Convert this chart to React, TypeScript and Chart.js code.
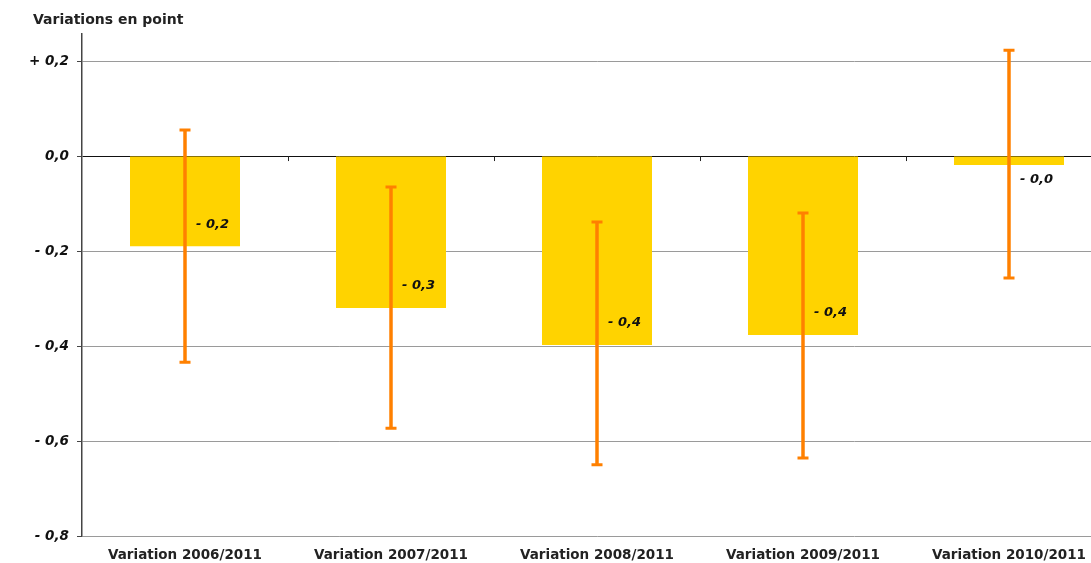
import React, { useEffect, useRef } from "react";
import { Chart, registerables } from "chart.js";

Chart.register(...registerables);

const categories = [
  "Variation 2006/2011",
  "Variation 2007/2011",
  "Variation 2008/2011",
  "Variation 2009/2011",
  "Variation 2010/2011",
];
const values = [-0.19, -0.32, -0.398, -0.377, -0.019];
const errorHigh = [0.055, -0.065, -0.139, -0.12, 0.223];
const errorLow = [-0.434, -0.573, -0.65, -0.636, -0.257];
const yTickValues = [-0.8, -0.6, -0.4, -0.2, 0, 0.2];
const yMin = -0.8;
const yMax = 0.257;
const yTitle = "Variations en point";

const BAR_COLOR = "#FFD300";
const ERR_COLOR = "#FF8000";
const FONT = "'DejaVu Sans', 'Liberation Sans', Arial, sans-serif";

const fmt = (v: number) => {
  const r = Math.round(v * 10) / 10;
  const s = Math.abs(r).toFixed(1).replace(".", ",");
  if (Math.abs(r) < 1e-9) return v < 0 ? "- " + s : s;
  return (r > 0 ? "+ " : "- ") + s;
};

const overlayPlugin = {
  id: "overlay",
  afterDatasetsDraw(chart: any) {
    const ctx = chart.ctx;
    const x = chart.scales.x;
    const y = chart.scales.y;
    const area = chart.chartArea;
    const y0 = y.getPixelForValue(0);
    ctx.save();
    // category tick marks on zero line
    ctx.strokeStyle = "#222";
    ctx.lineWidth = 1;
    for (let i = 1; i < categories.length; i++) {
      const px = (x.getPixelForValue(i - 1) + x.getPixelForValue(i)) / 2;
      ctx.beginPath();
      ctx.moveTo(Math.round(px) + 0.5, y0);
      ctx.lineTo(Math.round(px) + 0.5, y0 + 5);
      ctx.stroke();
    }
    // error bars
    ctx.strokeStyle = ERR_COLOR;
    for (let i = 0; i < categories.length; i++) {
      const cx = x.getPixelForValue(i);
      const yh = y.getPixelForValue(errorHigh[i]);
      const yl = y.getPixelForValue(errorLow[i]);
      ctx.lineWidth = 3.5;
      ctx.beginPath();
      ctx.moveTo(cx, yh);
      ctx.lineTo(cx, yl);
      ctx.stroke();
      ctx.lineWidth = 3;
      ctx.beginPath();
      ctx.moveTo(cx - 5.5, yh);
      ctx.lineTo(cx + 5.5, yh);
      ctx.moveTo(cx - 5.5, yl);
      ctx.lineTo(cx + 5.5, yl);
      ctx.stroke();
    }
    // value labels
    ctx.fillStyle = "#111";
    ctx.font = `italic bold 13px ${FONT}`;
    ctx.textAlign = "left";
    ctx.textBaseline = "middle";
    for (let i = 0; i < categories.length; i++) {
      const cx = x.getPixelForValue(i);
      const yv = y.getPixelForValue(values[i]);
      const h = Math.abs(yv - y0);
      const ly = h > 40 ? yv - 22 : yv + 15;
      ctx.fillText(fmt(values[i]), cx + 11, ly);
    }
    // title
    ctx.fillStyle = "#222";
    ctx.font = `bold 14px ${FONT}`;
    ctx.textAlign = "left";
    ctx.textBaseline = "middle";
    ctx.fillText(yTitle, area.left - 49, 20);
    ctx.restore();
  },
};

export default function App() {
  const ref = useRef<HTMLCanvasElement>(null);
  useEffect(() => {
    if (!ref.current) return;
    const chart = new Chart(ref.current, {
      type: "bar",
      data: {
        labels: categories,
        datasets: [
          {
            data: values,
            backgroundColor: BAR_COLOR,
            borderWidth: 0,
            barPercentage: 0.534,
            categoryPercentage: 1,
          },
        ],
      },
      options: {
        animation: false,
        responsive: false,
        maintainAspectRatio: false,
        layout: { padding: { top: 34, left: 0, right: 0, bottom: 0 } },
        plugins: {
          legend: { display: false },
          tooltip: { enabled: false },
          title: { display: false },
        },
        scales: {
          x: {
            grid: { display: false, drawTicks: false },
            border: { display: false },
            ticks: {
              color: "#222",
              padding: 11,
              maxRotation: 0,
              autoSkip: false,
              font: { family: FONT, size: 13.5, weight: "bold" },
            },
            afterFit(scale: any) {
              scale.height = 27;
            },
          },
          y: {
            min: yMin,
            max: yMax,
            afterBuildTicks(scale: any) {
              scale.ticks = yTickValues.map((v) => ({ value: v }));
            },
            grid: {
              color: (c: any) =>
                c.tick && Math.abs(c.tick.value) < 1e-9 ? "#111" : "#9a9a9a",
              lineWidth: 1,
              tickLength: 5,
              tickColor: "#444",
            },
            border: { display: true, color: "#444", width: 1.5 },
            ticks: {
              color: "#111",
              padding: 8,
              font: { family: FONT, size: 13.5, weight: "bold", style: "italic" },
              callback: (v: any) => fmt(Number(v)),
            },
            afterFit(scale: any) {
              scale.width = 82;
            },
          },
        },
      },
      plugins: [overlayPlugin],
    });
    return () => chart.destroy();
  }, []);
  return (
    <div style={{ position: "absolute", left: 0, top: 0, width: 1091, height: 563, background: "#fff", overflow: "hidden" }}>
      <canvas ref={ref} width={1112} height={563} style={{ display: "block" }} />
    </div>
  );
}
